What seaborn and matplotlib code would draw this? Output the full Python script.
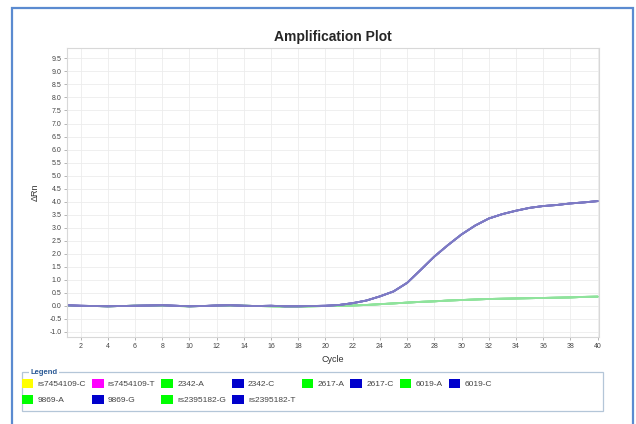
import matplotlib
matplotlib.use('Agg')
import matplotlib.pyplot as plt
from matplotlib.patches import Patch, Rectangle
import seaborn as sns
import pandas as pd

# cycles and readings (delta Rn)
cycles = list(range(1, 41))
amplified = [0.02, 0.0, -0.01, -0.02, -0.01, 0.0, 0.01, 0.02, 0.0, -0.02,
             -0.01, 0.01, 0.02, 0.0, -0.01, 0.0, -0.02, -0.02, -0.01, 0.0,
             0.03, 0.1, 0.2, 0.36, 0.55, 0.88, 1.38, 1.89, 2.33, 2.74,
             3.08, 3.35, 3.52, 3.65, 3.76, 3.83, 3.87, 3.93, 3.97, 4.02]
flat_green = [0.0, -0.01, -0.01, -0.02, -0.01, 0.0, 0.0, 0.01, -0.01, -0.02,
              -0.01, 0.0, 0.01, 0.0, -0.01, -0.02, -0.03, -0.03, -0.02, -0.01,
              0.0, 0.01, 0.03, 0.06, 0.09, 0.12, 0.15, 0.17, 0.2, 0.22,
              0.24, 0.26, 0.27, 0.28, 0.29, 0.3, 0.31, 0.32, 0.34, 0.35]

samples = ['rs7454109-C', 'rs7454109-T', '2342-A', '2342-C', '2617-A', '2617-C',
           '6019-A', '6019-C', '9869-A', '9869-G', 'rs2395182-G', 'rs2395182-T']
legend_colors = ['#ffff00', '#ff00ff', '#00ff00', '#0000cc', '#00ff00', '#0000cc',
                 '#00ff00', '#0000cc', '#00ff00', '#0000cc', '#00ff00', '#0000cc']
# the rs7454109 wells show no trace on the plot
green_samples = ['2342-A', '2617-A', '6019-A', '9869-A', 'rs2395182-G']
blue_samples = ['2342-C', '2617-C', '6019-C', '9869-G', 'rs2395182-T']

rows = []
for s in green_samples:
    for cyc, v in zip(cycles, flat_green):
        rows.append({'sample': s, 'cycle': cyc, 'rn': v})
for s in blue_samples:
    for cyc, v in zip(cycles, amplified):
        rows.append({'sample': s, 'cycle': cyc, 'rn': v})
df = pd.DataFrame(rows)

palette = {s: '#8fe39c' for s in green_samples}
palette.update({s: '#7d7ac4' for s in blue_samples})

sns.set_style('whitegrid')
plt.rcParams['font.family'] = ['Liberation Sans', 'DejaVu Sans']

fig = plt.figure(figsize=(6.36, 4.24), dpi=100)
ax = fig.add_axes([0.1053, 0.2052, 0.8365, 0.6816])

sns.lineplot(data=df, x='cycle', y='rn', hue='sample', palette=palette,
             hue_order=green_samples + blue_samples, linewidth=1.3,
             estimator=None, legend=False, ax=ax)

ax.set_xlim(1, 40.1)
ax.set_ylim(-1.2, 9.9)
ax.set_xticks(range(2, 41, 2))
ax.set_yticks([x / 2 for x in range(-2, 20)])
ax.set_yticklabels([f'{x / 2:.1f}' for x in range(-2, 20)])
ax.tick_params(labelsize=5, length=2, width=0.5, color='#999999', pad=2,
               left=True, bottom=True, labelcolor='#444444')
ax.grid(True, color='#ececec', linewidth=0.6)
for sp in ax.spines.values():
    sp.set_color('#d8d8d8')
    sp.set_linewidth(0.8)

ax.set_title('Amplification Plot', fontsize=10, fontweight='heavy', pad=5)
ax.set_xlabel('Cycle', fontsize=6.5, color='#333333', labelpad=4)
ax.set_ylabel('ΔRn', fontsize=6.5, color='#333333', labelpad=7)

# outer blue frame
fig.patches.append(Rectangle((12 / 636, -0.1), 621 / 636, 416 / 424 + 0.1,
                             transform=fig.transFigure, fill=False,
                             edgecolor='#5b8bd0', linewidth=1.6))
# legend box
fig.patches.append(Rectangle((22 / 636, 13 / 424), 581 / 636, 39 / 424,
                             transform=fig.transFigure, fill=False,
                             edgecolor='#b4c6d8', linewidth=0.9))
fig.text(30 / 636, 1 - 372 / 424, 'Legend', fontsize=5.5, fontweight='bold',
         color='#2b5a96', va='center', ha='left',
         bbox=dict(facecolor='white', edgecolor='none', pad=1))

handles = {s: Patch(facecolor=c, edgecolor='none') for s, c in zip(samples, legend_colors)}
leg_order = ['rs7454109-C', '9869-A', 'rs7454109-T', '9869-G', '2342-A', 'rs2395182-G',
             '2342-C', 'rs2395182-T', '2617-A', '2617-C', '6019-A', '6019-C']
fig.legend([handles[s] for s in leg_order], leg_order, loc='upper left',
           bbox_to_anchor=(15 / 636, 1 - 372 / 424), ncol=8, frameon=False,
           fontsize=6, handlelength=1.4, handleheight=1.4, handletextpad=0.5,
           columnspacing=0.72, labelspacing=0.75, borderpad=0.3, labelcolor='#444444')

fig.savefig('out.png', dpi=100)
